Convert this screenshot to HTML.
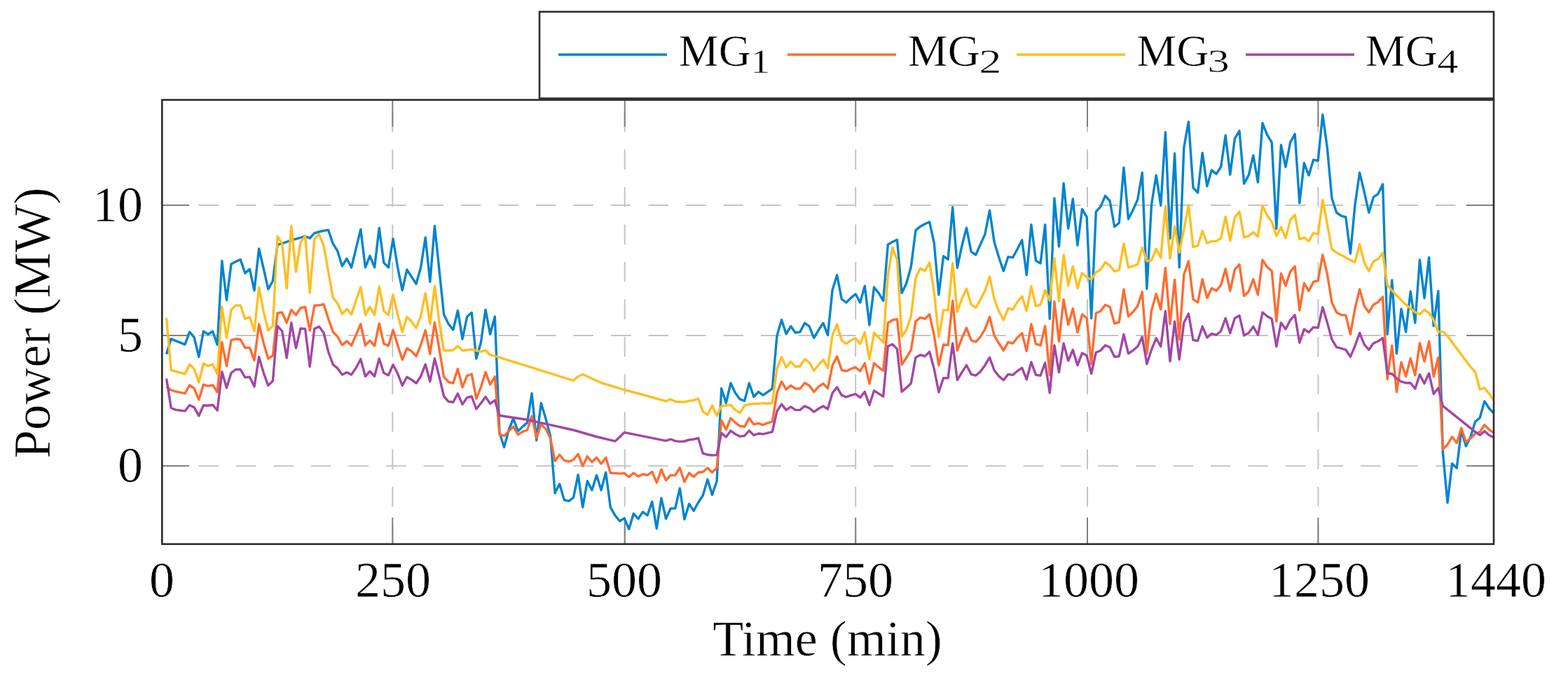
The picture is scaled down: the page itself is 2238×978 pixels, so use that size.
<!DOCTYPE html>
<html><head><meta charset="utf-8">
<style>
html,body{margin:0;padding:0;background:#fff;width:2238px;height:978px;overflow:hidden}
svg{display:block}
text{font-family:"Liberation Serif",serif;fill:#000;stroke:#fff;stroke-width:0.6px}
</style></head><body>
<svg width="2238" height="978" viewBox="0 0 2238 978">
<defs><clipPath id="clip"><rect x="231" y="143" width="1901" height="634"/></clipPath></defs>
<g id="grid" stroke="#c4c4c4" stroke-width="2" stroke-dasharray="28.5 25" fill="none">
<line x1="560.3" y1="777" x2="560.3" y2="143"/>
<line x1="891.7" y1="777" x2="891.7" y2="143"/>
<line x1="1221.2" y1="777" x2="1221.2" y2="143"/>
<line x1="1552" y1="777" x2="1552" y2="143"/>
<line x1="1881.4" y1="777" x2="1881.4" y2="143"/>
<line x1="230" y1="665.2" x2="2132" y2="665.2"/>
<line x1="230" y1="479" x2="2132" y2="479"/>
<line x1="230" y1="293" x2="2132" y2="293"/>
</g>
<g id="ticks" stroke="#808080" stroke-width="2">
<line x1="560.3" y1="143" x2="560.3" y2="181"/><line x1="560.3" y1="739" x2="560.3" y2="777"/>
<line x1="891.7" y1="143" x2="891.7" y2="181"/><line x1="891.7" y1="739" x2="891.7" y2="777"/>
<line x1="1221.2" y1="143" x2="1221.2" y2="181"/><line x1="1221.2" y1="739" x2="1221.2" y2="777"/>
<line x1="1552" y1="143" x2="1552" y2="181"/><line x1="1552" y1="739" x2="1552" y2="777"/>
<line x1="1881.4" y1="143" x2="1881.4" y2="181"/><line x1="1881.4" y1="739" x2="1881.4" y2="777"/>
<line x1="231" y1="665.2" x2="270" y2="665.2"/><line x1="2093" y1="665.2" x2="2132" y2="665.2"/>
<line x1="231" y1="479" x2="270" y2="479"/><line x1="2093" y1="479" x2="2132" y2="479"/>
<line x1="231" y1="293" x2="270" y2="293"/><line x1="2093" y1="293" x2="2132" y2="293"/>
</g>
<g id="data" fill="none" stroke-width="3.4" stroke-linejoin="round" clip-path="url(#clip)">
<path d="M237.6,505.7 L244.2,483.8 L250.8,486.6 L257.4,489.2 L264.0,491.8 L270.6,473.9 L277.2,481.7 L283.8,509.5 L290.4,473.0 L297.0,477.4 L303.6,473.0 L310.2,492.1 L316.8,372.4 L323.4,428.6 L330.0,377.0 L336.6,373.4 L343.2,370.6 L349.8,389.9 L356.4,384.4 L363.0,414.8 L369.6,355.0 L376.2,383.5 L382.8,412.9 L389.4,401.0 L396.0,349.4 L402.6,347.6 L409.2,345.4 L415.8,343.0 L422.4,341.2 L429.0,339.3 L435.6,337.2 L442.2,340.1 L448.8,332.9 L455.4,331.0 L462.0,329.4 L468.6,328.4 L475.2,347.9 L481.8,358.5 L488.4,379.9 L495.0,369.2 L501.6,381.9 L508.2,354.7 L514.8,327.5 L521.4,381.9 L528.0,365.3 L534.6,381.9 L541.2,325.5 L547.8,375.0 L554.4,381.9 L561.0,340.9 L567.6,381.8 L574.2,414.5 L580.8,384.9 L587.4,395.1 L594.0,405.3 L600.6,381.8 L607.2,338.9 L613.8,402.3 L620.4,322.5 L627.0,386.0 L633.6,449.3 L640.2,462.5 L646.8,471.0 L653.4,443.3 L660.0,484.0 L666.6,452.3 L673.2,446.3 L679.8,512.0 L686.4,489.0 L693.0,442.1 L699.6,477.3 L706.3,451.9 L712.9,617.3 L719.5,638.5 L726.1,614.0 L732.7,597.5 L739.3,615.6 L745.9,609.1 L752.5,603.4 L759.1,561.6 L765.7,628.7 L772.3,575.5 L778.9,597.6 L785.5,622.2 L792.1,704.0 L798.7,690.9 L805.3,713.8 L811.9,715.4 L818.5,710.5 L825.1,677.8 L831.7,724.3 L838.3,686.7 L844.9,699.8 L851.5,678.5 L858.1,699.8 L864.7,674.4 L871.3,724.3 L877.9,735.8 L884.5,744.0 L891.1,739.9 L897.7,755.4 L904.3,733.3 L910.9,740.7 L917.5,730.9 L924.1,735.8 L930.7,716.2 L937.3,754.6 L943.9,711.2 L950.5,740.7 L957.1,726.0 L963.7,725.9 L970.3,697.2 L976.9,741.6 L983.5,719.4 L990.1,729.4 L996.7,717.3 L1003.3,707.3 L1009.9,684.4 L1016.5,706.5 L1023.1,687.0 L1029.7,554.4 L1036.3,575.6 L1042.9,547.0 L1049.5,560.9 L1056.1,569.9 L1062.7,572.4 L1069.3,547.0 L1075.9,566.6 L1082.5,559.3 L1089.1,564.2 L1095.7,559.6 L1102.3,555.0 L1108.9,479.6 L1115.5,456.6 L1122.1,476.8 L1128.7,465.8 L1135.3,475.0 L1141.9,474.0 L1148.5,461.2 L1155.1,465.8 L1161.7,482.3 L1168.3,471.3 L1174.9,461.2 L1181.5,478.6 L1188.1,414.0 L1194.7,392.7 L1201.3,427.0 L1207.9,432.0 L1214.5,425.4 L1221.1,419.7 L1227.7,432.0 L1234.3,408.3 L1240.9,464.0 L1247.5,410.0 L1254.1,418.4 L1260.7,429.4 L1267.3,349.3 L1273.9,345.2 L1280.5,342.4 L1287.1,418.4 L1293.7,404.5 L1300.3,381.0 L1306.9,328.9 L1313.5,323.4 L1320.1,319.7 L1326.7,316.9 L1333.3,347.3 L1339.9,420.9 L1346.5,365.7 L1353.1,370.3 L1359.7,295.8 L1366.3,382.2 L1372.9,351.0 L1379.5,325.2 L1386.1,359.2 L1392.7,363.8 L1399.3,349.1 L1405.9,334.4 L1412.5,300.4 L1419.1,345.4 L1425.7,367.5 L1432.3,387.0 L1438.9,366.7 L1445.5,367.6 L1452.1,355.7 L1458.7,342.8 L1465.3,392.5 L1471.9,320.7 L1478.5,372.2 L1485.1,375.9 L1491.7,320.7 L1498.3,455.3 L1504.9,283.0 L1511.5,352.0 L1518.1,261.8 L1524.7,326.2 L1531.3,283.9 L1537.9,350.2 L1544.5,298.6 L1551.1,309.7 L1557.7,454.4 L1564.3,302.3 L1570.9,295.0 L1577.5,279.6 L1584.1,287.0 L1590.7,323.8 L1597.3,318.2 L1603.9,239.1 L1610.5,312.7 L1617.1,299.8 L1623.7,285.1 L1630.3,246.5 L1636.9,412.2 L1643.5,292.5 L1650.2,250.2 L1656.8,293.5 L1663.4,188.6 L1670.0,340.5 L1676.6,219.0 L1683.2,381.9 L1689.8,210.7 L1696.4,173.9 L1703.0,267.8 L1709.6,275.1 L1716.2,218.1 L1722.8,265.9 L1729.4,242.9 L1736.0,248.4 L1742.6,238.3 L1749.2,193.2 L1755.8,249.4 L1762.4,197.8 L1769.0,186.8 L1775.6,262.2 L1782.2,250.3 L1788.8,221.8 L1795.4,260.4 L1802.0,175.8 L1808.6,192.3 L1815.2,203.4 L1821.8,326.6 L1828.4,207.0 L1835.0,238.3 L1841.6,203.4 L1848.2,191.4 L1854.8,289.8 L1861.4,232.8 L1868.0,250.3 L1874.6,228.2 L1881.2,229.5 L1887.8,163.7 L1894.4,211.5 L1901.0,283.3 L1907.6,303.5 L1914.2,308.1 L1920.8,310.0 L1927.4,362.0 L1934.0,292.5 L1940.6,246.5 L1947.2,274.1 L1953.8,303.5 L1960.4,281.4 L1967.0,276.8 L1973.6,263.0 L1980.2,477.2 L1986.8,399.9 L1993.4,504.8 L2000.0,441.0 L2006.6,474.0 L2013.2,416.0 L2019.8,461.0 L2026.4,371.0 L2033.0,425.6 L2039.6,367.5 L2046.2,465.5 L2052.8,415.8 L2059.4,646.0 L2066.0,717.9 L2072.6,661.7 L2079.2,668.4 L2085.8,614.5 L2092.4,637.0 L2099.0,623.5 L2105.6,602.1 L2112.2,596.5 L2118.8,572.9 L2125.4,583.0 L2132.0,589.7" stroke="#0084cf"/>
<path d="M237.6,552.1 L244.2,556.8 L250.8,559.0 L257.4,560.3 L264.0,561.7 L270.6,549.8 L277.2,554.7 L283.8,570.7 L290.4,549.1 L297.0,551.2 L303.6,549.8 L310.2,559.9 L316.8,488.7 L323.4,522.6 L330.0,485.6 L336.6,483.8 L343.2,484.7 L349.8,496.5 L356.4,496.4 L363.0,514.4 L369.6,463.0 L376.2,489.8 L382.8,512.0 L389.4,507.8 L396.0,447.0 L402.6,446.0 L409.2,460.8 L415.8,442.4 L422.4,449.7 L429.0,439.6 L435.6,438.2 L442.2,472.0 L448.8,436.2 L455.4,435.8 L462.0,434.3 L468.6,455.0 L475.2,473.8 L481.8,480.5 L488.4,492.8 L495.0,487.0 L501.6,493.3 L508.2,478.0 L514.8,462.6 L521.4,493.2 L528.0,486.2 L534.6,493.8 L541.2,461.8 L547.8,490.6 L554.4,493.8 L561.0,471.0 L567.6,492.7 L574.2,513.6 L580.8,497.3 L587.4,501.4 L594.0,508.7 L600.6,492.4 L607.2,471.5 L613.8,505.4 L620.4,460.5 L627.0,498.9 L633.6,538.2 L640.2,545.5 L646.8,547.2 L653.4,526.7 L660.0,552.9 L666.6,536.5 L673.2,534.0 L679.8,569.2 L686.4,552.9 L693.0,531.2 L699.6,549.2 L706.3,537.8 L712.9,620.5 L719.5,622.2 L726.1,615.6 L732.7,609.1 L739.3,620.5 L745.9,616.4 L752.5,614.0 L759.1,594.0 L765.7,625.4 L772.3,605.8 L778.9,612.4 L785.5,625.4 L792.1,658.2 L798.7,649.2 L805.3,657.3 L811.9,659.0 L818.5,656.5 L825.1,648.3 L831.7,665.4 L838.3,651.5 L844.9,659.7 L851.5,653.2 L858.1,662.2 L864.7,653.2 L871.3,675.3 L877.9,675.6 L884.5,676.1 L891.1,675.6 L897.7,681.0 L904.3,675.3 L910.9,680.2 L917.5,676.9 L924.1,678.5 L930.7,673.6 L937.3,689.2 L943.9,670.3 L950.5,685.9 L957.1,678.5 L963.7,678.6 L970.3,668.0 L976.9,688.0 L983.5,675.2 L990.1,680.8 L996.7,674.5 L1003.3,673.7 L1009.9,668.0 L1016.5,674.5 L1023.1,668.0 L1029.7,600.2 L1036.3,613.3 L1042.9,596.9 L1049.5,603.4 L1056.1,608.3 L1062.7,609.2 L1069.3,596.9 L1075.9,605.9 L1082.5,604.3 L1089.1,606.7 L1095.7,603.8 L1102.3,601.9 L1108.9,561.4 L1115.5,544.9 L1122.1,555.9 L1128.7,550.4 L1135.3,555.0 L1141.9,555.0 L1148.5,546.7 L1155.1,550.4 L1161.7,559.6 L1168.3,552.2 L1174.9,547.6 L1181.5,554.5 L1188.1,521.8 L1194.7,508.7 L1201.3,528.3 L1207.9,530.0 L1214.5,526.7 L1221.1,524.3 L1227.7,530.0 L1234.3,518.5 L1240.9,548.0 L1247.5,518.5 L1254.1,524.3 L1260.7,529.2 L1267.3,461.1 L1273.9,457.0 L1280.5,455.6 L1287.1,520.5 L1293.7,510.8 L1300.3,499.4 L1306.9,458.9 L1313.5,453.4 L1320.1,455.2 L1326.7,448.8 L1333.3,479.1 L1339.9,521.4 L1346.5,492.0 L1353.1,492.9 L1359.7,429.4 L1366.3,500.3 L1372.9,482.8 L1379.5,468.1 L1386.1,485.6 L1392.7,488.3 L1399.3,481.0 L1405.9,469.9 L1412.5,452.4 L1419.1,479.1 L1425.7,490.2 L1432.3,500.4 L1438.9,488.4 L1445.5,490.3 L1452.1,482.0 L1458.7,475.6 L1465.3,501.3 L1471.9,462.7 L1478.5,491.2 L1485.1,493.0 L1491.7,465.4 L1498.3,535.4 L1504.9,430.5 L1511.5,487.5 L1518.1,427.7 L1524.7,463.6 L1531.3,440.6 L1537.9,474.6 L1544.5,448.9 L1551.1,454.4 L1557.7,519.7 L1564.3,447.0 L1570.9,444.3 L1577.5,435.2 L1584.1,438.0 L1590.7,461.9 L1597.3,460.0 L1603.9,413.2 L1610.5,451.8 L1617.1,445.4 L1623.7,437.1 L1630.3,416.8 L1636.9,505.0 L1643.5,443.5 L1650.2,419.6 L1656.8,441.7 L1663.4,382.8 L1670.0,462.6 L1676.6,399.4 L1683.2,484.6 L1689.8,392.0 L1696.4,372.9 L1703.0,427.2 L1709.6,431.8 L1716.2,398.7 L1722.8,425.4 L1729.4,411.6 L1736.0,415.2 L1742.6,407.0 L1749.2,384.0 L1755.8,415.2 L1762.4,384.9 L1769.0,377.5 L1775.6,422.6 L1782.2,416.2 L1788.8,398.7 L1795.4,420.8 L1802.0,371.1 L1808.6,381.2 L1815.2,386.7 L1821.8,459.0 L1828.4,390.4 L1835.0,408.0 L1841.6,387.8 L1848.2,380.4 L1854.8,443.0 L1861.4,404.3 L1868.0,415.4 L1874.6,402.5 L1881.2,400.6 L1887.8,363.8 L1894.4,391.4 L1901.0,431.9 L1907.6,445.9 L1914.2,449.6 L1920.8,450.0 L1927.4,477.2 L1934.0,440.4 L1940.6,413.0 L1947.2,436.7 L1953.8,445.9 L1960.4,434.9 L1967.0,431.2 L1973.6,423.8 L1980.2,541.2 L1986.8,493.4 L1993.4,559.6 L2000.0,517.3 L2006.6,537.5 L2013.2,511.8 L2019.8,535.7 L2026.4,489.7 L2033.0,516.0 L2039.6,487.3 L2046.2,537.5 L2052.8,510.5 L2059.4,641.4 L2066.0,634.7 L2072.6,623.5 L2079.2,632.5 L2085.8,611.1 L2092.4,631.3 L2099.0,625.7 L2105.6,619.0 L2112.2,616.7 L2118.8,606.6 L2125.4,613.3 L2132.0,617.8" stroke="#ff6b30"/>
<path d="M237.6,453.9 L244.2,528.6 L250.8,530.4 L257.4,532.0 L264.0,533.9 L270.6,520.3 L277.2,526.9 L283.8,546.0 L290.4,519.0 L297.0,522.6 L303.6,520.0 L310.2,533.9 L316.8,437.8 L323.4,482.0 L330.0,442.4 L336.6,436.0 L343.2,436.0 L349.8,455.3 L356.4,452.5 L363.0,472.7 L369.6,410.2 L376.2,445.1 L382.8,471.8 L389.4,465.4 L396.0,337.5 L402.6,347.6 L409.2,412.0 L415.8,322.8 L422.4,388.1 L429.0,345.8 L435.6,337.2 L442.2,417.8 L448.8,341.1 L455.4,334.3 L462.0,350.8 L468.6,387.7 L475.2,424.6 L481.8,433.3 L488.4,448.3 L495.0,441.1 L501.6,448.9 L508.2,428.5 L514.8,410.0 L521.4,449.8 L528.0,438.2 L534.6,449.8 L541.2,409.0 L547.8,444.0 L554.4,449.8 L561.0,420.7 L567.6,449.3 L574.2,474.0 L580.8,452.4 L587.4,459.0 L594.0,468.2 L600.6,451.3 L607.2,418.6 L613.8,462.5 L620.4,408.4 L627.0,460.0 L633.6,500.5 L640.2,500.5 L646.8,499.7 L653.4,494.0 L660.0,500.5 L666.6,499.7 L673.2,498.9 L679.8,500.5 L686.4,502.2 L693.0,500.2 L699.6,506.7 L706.3,508.3 L818.5,543.3 L825.1,537.5 L831.7,534.5 L858.1,546.5 L891.1,556.6 L917.5,563.5 L950.5,572.8 L957.1,569.9 L963.7,573.2 L970.3,574.0 L976.9,574.0 L983.5,572.4 L990.1,571.5 L996.7,569.1 L1003.3,587.9 L1009.9,592.0 L1016.5,578.9 L1023.1,593.6 L1029.7,579.7 L1036.3,578.9 L1042.9,578.1 L1049.5,585.4 L1056.1,589.5 L1062.7,578.9 L1069.3,577.3 L1075.9,576.4 L1082.5,576.4 L1089.1,575.6 L1095.7,576.2 L1102.3,575.2 L1108.9,526.5 L1115.5,509.9 L1122.1,524.6 L1128.7,516.4 L1135.3,523.7 L1141.9,522.8 L1148.5,512.7 L1155.1,517.3 L1161.7,529.2 L1168.3,521.0 L1174.9,513.6 L1181.5,525.6 L1188.1,478.5 L1194.7,463.1 L1201.3,486.0 L1207.9,490.9 L1214.5,486.0 L1221.1,482.7 L1227.7,490.9 L1234.3,474.5 L1240.9,513.0 L1247.5,475.0 L1254.1,481.9 L1260.7,488.8 L1267.3,393.5 L1273.9,353.5 L1280.5,371.4 L1287.1,480.5 L1293.7,470.8 L1300.3,451.5 L1306.9,397.0 L1313.5,383.2 L1320.1,386.8 L1326.7,374.9 L1333.3,417.2 L1339.9,481.0 L1346.5,442.6 L1353.1,443.1 L1359.7,375.8 L1366.3,445.0 L1372.9,426.4 L1379.5,412.3 L1386.1,434.4 L1392.7,439.5 L1399.3,427.9 L1405.9,415.0 L1412.5,395.0 L1419.1,427.0 L1425.7,444.5 L1432.3,457.0 L1438.9,440.0 L1445.5,442.0 L1452.1,431.0 L1458.7,423.0 L1465.3,444.0 L1471.9,408.7 L1478.5,437.0 L1485.1,435.0 L1491.7,414.2 L1498.3,429.0 L1504.9,368.6 L1511.5,430.0 L1518.1,364.0 L1524.7,407.8 L1531.3,380.5 L1537.9,411.5 L1544.5,389.7 L1551.1,396.0 L1557.7,399.0 L1564.3,388.8 L1570.9,385.1 L1577.5,374.5 L1584.1,379.1 L1590.7,387.4 L1597.3,385.6 L1603.9,347.8 L1610.5,381.9 L1617.1,380.0 L1623.7,377.3 L1630.3,353.4 L1636.9,372.7 L1643.5,371.8 L1650.2,355.2 L1656.8,368.1 L1663.4,294.0 L1670.0,369.0 L1676.6,323.2 L1683.2,360.7 L1689.8,327.6 L1696.4,292.9 L1703.0,352.7 L1709.6,350.8 L1716.2,329.7 L1722.8,347.2 L1729.4,344.4 L1736.0,344.4 L1742.6,339.8 L1749.2,309.4 L1755.8,343.5 L1762.4,310.4 L1769.0,302.1 L1775.6,338.9 L1782.2,337.0 L1788.8,331.5 L1795.4,338.0 L1802.0,293.8 L1808.6,307.6 L1815.2,316.8 L1821.8,337.0 L1828.4,324.2 L1835.0,339.9 L1841.6,314.2 L1848.2,306.8 L1854.8,341.8 L1861.4,339.0 L1868.0,344.5 L1874.6,332.6 L1881.2,334.4 L1887.8,285.6 L1894.4,319.7 L1901.0,356.0 L1907.6,360.4 L1914.2,364.0 L1920.8,367.7 L1927.4,371.4 L1934.0,374.2 L1940.6,348.6 L1947.2,375.0 L1953.8,387.0 L1960.4,373.2 L1967.0,369.6 L1973.6,361.3 L1980.2,407.3 L1986.8,414.6 L1993.4,422.0 L2000.0,428.4 L2006.6,434.9 L2013.2,440.4 L2019.8,445.9 L2026.4,448.7 L2033.0,442.2 L2039.6,446.8 L2046.2,456.6 L2052.8,474.1 L2059.4,473.1 L2066.0,479.9 L2099.0,524.0 L2105.6,531.0 L2112.2,556.0 L2118.8,553.7 L2125.4,562.0 L2132.0,571.0" stroke="#ffbe20"/>
<path d="M237.6,540.5 L244.2,582.5 L250.8,585.1 L257.4,586.0 L264.0,586.9 L270.6,578.5 L277.2,581.6 L283.8,593.8 L290.4,578.7 L297.0,579.0 L303.6,578.2 L310.2,586.0 L316.8,530.7 L323.4,553.7 L330.0,532.4 L336.6,527.5 L343.2,527.5 L349.8,538.9 L356.4,538.3 L363.0,552.0 L369.6,509.5 L376.2,532.4 L382.8,550.4 L389.4,543.8 L396.0,465.4 L402.6,472.7 L409.2,511.0 L415.8,460.8 L422.4,497.0 L429.0,469.0 L435.6,469.4 L442.2,523.4 L448.8,469.4 L455.4,466.2 L462.0,475.2 L468.6,502.2 L475.2,520.2 L481.8,525.9 L488.4,534.9 L495.0,531.6 L501.6,534.9 L508.2,525.1 L514.8,512.8 L521.4,537.3 L528.0,530.0 L534.6,537.3 L541.2,512.0 L547.8,532.4 L554.4,535.7 L561.0,520.7 L567.6,533.3 L574.2,550.4 L580.8,538.2 L587.4,542.2 L594.0,547.2 L600.6,537.3 L607.2,520.2 L613.8,544.7 L620.4,512.0 L627.0,538.2 L633.6,566.0 L640.2,573.3 L646.8,574.2 L653.4,561.9 L660.0,577.4 L666.6,567.6 L673.2,566.0 L679.8,584.0 L686.4,575.8 L693.0,566.5 L699.6,576.4 L706.3,571.5 L712.9,593.2 L752.5,599.3 L785.5,606.6 L818.5,614.0 L851.5,623.5 L877.9,629.9 L884.5,624.0 L891.1,617.4 L950.5,629.4 L957.1,627.0 L963.7,629.6 L970.3,630.4 L976.9,630.0 L983.5,628.0 L990.1,627.2 L996.7,625.5 L1003.3,647.4 L1009.9,649.2 L1016.5,650.0 L1023.1,649.6 L1029.7,618.2 L1036.3,623.9 L1042.9,614.9 L1049.5,619.8 L1056.1,623.1 L1062.7,622.2 L1069.3,614.9 L1075.9,621.4 L1082.5,619.0 L1089.1,619.8 L1095.7,618.1 L1102.3,616.6 L1108.9,587.2 L1115.5,577.1 L1122.1,585.4 L1128.7,580.8 L1135.3,585.4 L1141.9,585.4 L1148.5,579.8 L1155.1,582.6 L1161.7,588.1 L1168.3,583.5 L1174.9,579.8 L1181.5,584.0 L1188.1,561.1 L1194.7,552.9 L1201.3,564.3 L1207.9,566.8 L1214.5,564.3 L1221.1,562.7 L1227.7,567.6 L1234.3,559.4 L1240.9,578.2 L1247.5,557.8 L1254.1,561.9 L1260.7,566.0 L1267.3,494.3 L1273.9,491.5 L1280.5,498.4 L1287.1,559.2 L1293.7,553.6 L1300.3,547.2 L1306.9,510.4 L1313.5,506.7 L1320.1,508.6 L1326.7,502.1 L1333.3,527.0 L1339.9,560.0 L1346.5,539.8 L1353.1,539.8 L1359.7,490.2 L1366.3,542.6 L1372.9,531.6 L1379.5,521.4 L1386.1,534.3 L1392.7,536.2 L1399.3,530.6 L1405.9,521.4 L1412.5,510.4 L1419.1,528.8 L1425.7,537.1 L1432.3,542.7 L1438.9,534.4 L1445.5,535.4 L1452.1,529.8 L1458.7,525.2 L1465.3,541.8 L1471.9,517.0 L1478.5,535.4 L1485.1,536.3 L1491.7,517.9 L1498.3,561.1 L1504.9,493.0 L1511.5,531.7 L1518.1,490.3 L1524.7,515.1 L1531.3,499.5 L1537.9,521.6 L1544.5,504.1 L1551.1,507.8 L1557.7,533.5 L1564.3,503.2 L1570.9,500.4 L1577.5,493.0 L1584.1,495.7 L1590.7,509.5 L1597.3,508.6 L1603.9,477.3 L1610.5,504.9 L1617.1,500.3 L1623.7,494.8 L1630.3,481.0 L1636.9,519.6 L1643.5,499.4 L1650.2,482.8 L1656.8,494.8 L1663.4,444.2 L1670.0,515.9 L1676.6,458.9 L1683.2,513.2 L1689.8,460.7 L1696.4,447.8 L1703.0,485.6 L1709.6,486.5 L1716.2,466.2 L1722.8,481.9 L1729.4,476.4 L1736.0,478.2 L1742.6,472.7 L1749.2,454.3 L1755.8,475.4 L1762.4,454.3 L1769.0,450.6 L1775.6,479.1 L1782.2,475.4 L1788.8,466.2 L1795.4,478.2 L1802.0,446.0 L1808.6,451.5 L1815.2,455.2 L1821.8,494.8 L1828.4,460.7 L1835.0,469.9 L1841.6,457.0 L1848.2,449.7 L1854.8,489.2 L1861.4,469.9 L1868.0,474.5 L1874.6,467.2 L1881.2,468.1 L1887.8,438.6 L1894.4,460.7 L1901.0,484.6 L1907.6,495.6 L1914.2,497.4 L1920.8,499.3 L1927.4,509.4 L1934.0,493.8 L1940.6,475.4 L1947.2,491.9 L1953.8,499.3 L1960.4,490.1 L1967.0,487.3 L1973.6,482.7 L1980.2,532.9 L1986.8,533.8 L1993.4,540.3 L2000.0,544.9 L2006.6,546.7 L2013.2,546.7 L2019.8,555.0 L2026.4,534.8 L2033.0,547.6 L2039.6,532.9 L2046.2,562.4 L2052.8,554.0 L2059.4,579.6 L2105.6,616.7 L2112.2,621.2 L2118.8,615.6 L2125.4,621.2 L2132.0,624.6" stroke="#a346a5"/>
</g>
<rect x="231.3" y="142.6" width="1900.7" height="634.2" fill="none" stroke="#2b2b2b" stroke-width="2.6"/>
<g id="xt" font-size="72" text-anchor="middle">
<text x="231" y="852">0</text>
<text x="561" y="852">250</text>
<text x="891" y="852">500</text>
<text x="1221" y="852">750</text>
<text x="1554" y="852">1000</text>
<text x="1883" y="852">1250</text>
<text x="2135" y="852">1440</text>
</g>
<g id="yt" font-size="72" text-anchor="end">
<text x="204" y="688">0</text>
<text x="204" y="502">5</text>
<text x="204" y="316">10</text>
</g>
<text x="1181" y="936" font-size="72" text-anchor="middle">Time (min)</text>
<text transform="translate(71,461) rotate(-90)" font-size="73" text-anchor="middle">Power (MW)</text>
<rect x="770" y="16.8" width="1362" height="123.7" fill="#fff" stroke="#2b2b2b" stroke-width="2.6"/>
<g id="legend" stroke-width="3.4">
<line x1="797" y1="78" x2="952" y2="78" stroke="#0084cf"/>
<line x1="1124" y1="78" x2="1279" y2="78" stroke="#ff6b30"/>
<line x1="1451" y1="78" x2="1606" y2="78" stroke="#ffbe20"/>
<line x1="1778" y1="78" x2="1933" y2="78" stroke="#a346a5"/>
</g>
<g font-size="64">
<text x="968.8" y="93.5">MG</text>
<text x="1295.8" y="93.5">MG</text>
<text x="1622.3" y="93.5">MG</text>
<text x="1948.8" y="93.5">MG</text>
</g>
<g font-size="47.5">
<text transform="translate(1071.3,103.6) scale(1.18,1)">1</text>
<text transform="translate(1397.2,103.6) scale(1.36,1)">2</text>
<text transform="translate(1723.6,103.3) scale(1.32,1)">3</text>
<text transform="translate(2051.2,103.6) scale(1.27,1)">4</text>
</g>
</svg>
</body></html>
